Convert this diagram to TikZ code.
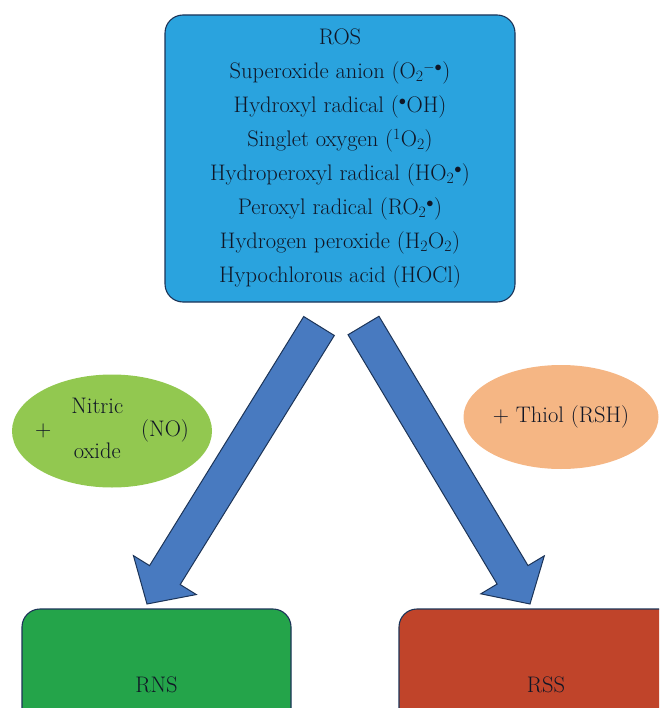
\documentclass[tikz,border=0pt]{standalone}
\usepackage{tikz}
\usetikzlibrary{shapes.geometric, calc}

\definecolor{rosblue}{RGB}{42,163,222}
\definecolor{navyline}{RGB}{28,52,88}
\definecolor{nogreen}{RGB}{146,200,80}
\definecolor{thiolpeach}{RGB}{245,182,132}
\definecolor{rnsgreen}{RGB}{36,164,74}
\definecolor{rssred}{RGB}{192,68,42}
\definecolor{arrowblue}{RGB}{72,122,192}
\definecolor{inkdark}{RGB}{16,22,38}

\tikzset{
    box/.style={draw=navyline, line width=1.1pt, rounded corners=18pt, text=inkdark, font=\fontsize{22.5}{34}\selectfont},
    blob/.style={ellipse, inner sep=0pt, text=inkdark, font=\fontsize{22.5}{27}\selectfont},
    fatarrow/.style={draw=navyline, line width=1pt, fill=arrowblue, line join=miter},
}

\newcommand{\blockarrow}[2]{%
    \coordinate (hb) at ($(#2)!34pt!(#1)$);
    \draw[fatarrow] ($(#1)!18pt!90:(#2)$) -- ($(hb)!18pt!90:(#2)$) -- ($(hb)!37pt!90:(#2)$) -- (#2)
        -- ($(hb)!37pt!-90:(#2)$) -- ($(hb)!18pt!-90:(#2)$) -- ($(#1)!18pt!-90:(#2)$) -- cycle;
}

\begin{document}
\begin{tikzpicture}[x=1pt, y=-1pt]
    \useasboundingbox (0,0) rectangle (659,708);
    \clip (0,0) rectangle (659,708);

    \node[box, fill=rosblue, minimum width=350pt, minimum height=287pt, align=center] (ros) at (340,158.5)
        {ROS\\
         Superoxide anion (O\textsubscript{2}\textsuperscript{$-\bullet$})\\
         Hydroxyl radical (\textsuperscript{$\bullet$}OH)\\
         Singlet oxygen (\textsuperscript{1}O\textsubscript{2})\\
         Hydroperoxyl radical (HO\textsubscript{2}\textsuperscript{$\bullet$})\\
         Peroxyl radical (RO\textsubscript{2}\textsuperscript{$\bullet$})\\
         Hydrogen peroxide (H\textsubscript{2}O\textsubscript{2})\\
         Hypochlorous acid (HOCl)};

    \node[blob, fill=nogreen, minimum width=200pt, minimum height=113pt] (no) at (112,431)
        {\makebox[0pt]{\begin{tabular}{@{}c@{\hspace{20pt}}c@{\hspace{18pt}}c@{}}
            + & \begin{tabular}{@{}c@{}}Nitric\\[18pt]oxide\end{tabular} & (NO)
         \end{tabular}}};
    \node[blob, fill=thiolpeach, minimum width=195pt, minimum height=104pt] (rsh) at (561,417) {+ Thiol (RSH)};

    \node[box, fill=rnsgreen, minimum width=269pt, minimum height=152pt] (rns) at (156.5,685) {RNS};
    \node[box, fill=rssred, minimum width=294pt, minimum height=152pt] (rss) at (546,685) {RSS};

    \coordinate (rosL) at (319,326);
    \coordinate (rosR) at (363.5,325.5);
    \coordinate (rnsTip) at (147,604);
    \coordinate (rssTip) at (530,604);

    \blockarrow{rosL}{rnsTip}
    \blockarrow{rosR}{rssTip}
\end{tikzpicture}
\end{document}
